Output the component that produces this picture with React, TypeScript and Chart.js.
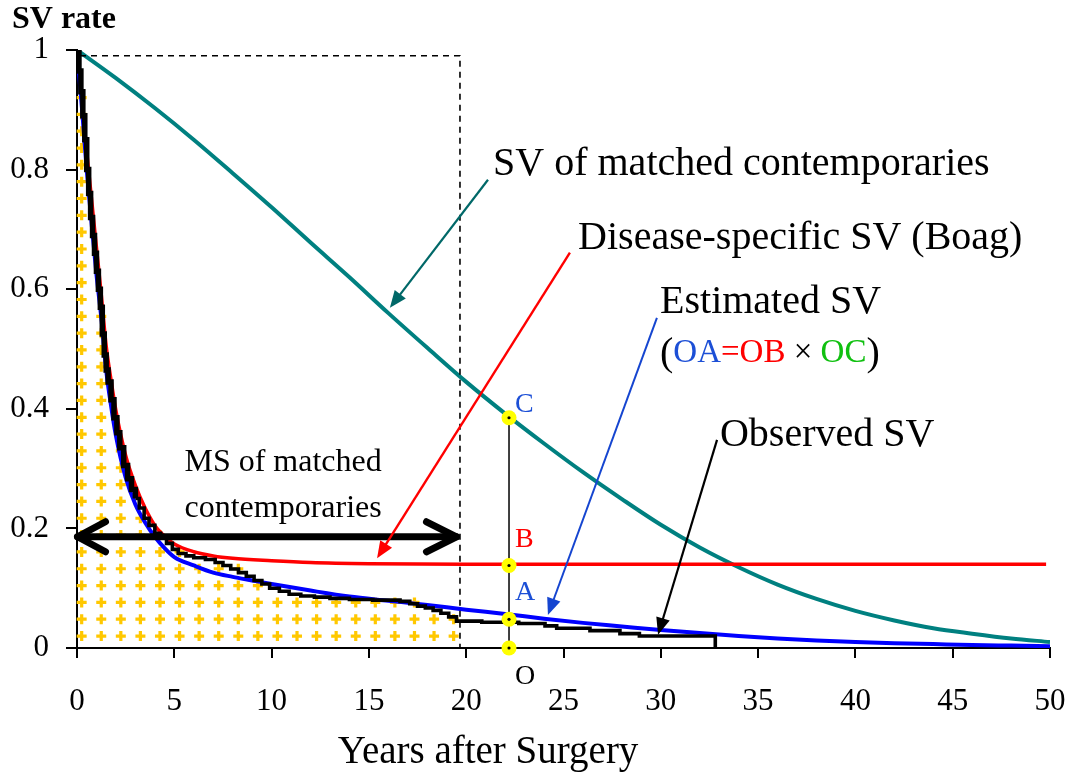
import React, { useEffect, useRef } from 'react';
import { Chart, registerables } from 'chart.js';

Chart.register(...registerables);

const FONT = '"Liberation Serif", "Times New Roman", serif';

// ---------- data ----------
const xTickValues = [0, 5, 10, 15, 20, 25, 30, 35, 40, 45, 50];
const yTickValues = [0, 0.2, 0.4, 0.6, 0.8, 1];
const yTickLabels = ['0', '0.2', '0.4', '0.6', '0.8', '1'];

// SV of matched contemporaries (teal)
const contemporaryYears = [0, 2, 4, 6, 8, 10, 12, 14, 16, 18, 20, 22, 24, 26, 28, 30, 32, 34, 36, 38, 40, 42, 44, 46, 48, 50];
const contemporarySV = [1, 0.953, 0.903, 0.85, 0.794, 0.737, 0.678, 0.62, 0.56, 0.502, 0.445, 0.392, 0.342, 0.294, 0.249, 0.206, 0.168, 0.135, 0.106, 0.082, 0.062, 0.046, 0.033, 0.024, 0.016, 0.01];

// Disease-specific SV (Boag) (red)
const boagYears = [0, 0.25, 0.5, 0.75, 1, 1.25, 1.5, 1.75, 2, 2.5, 3, 3.5, 4, 4.5, 5, 6, 7, 8, 10, 12, 15, 20, 30, 40, 49.8];
const boagSV = [1, 0.92, 0.83, 0.75, 0.67, 0.59, 0.505, 0.448, 0.397, 0.322, 0.272, 0.234, 0.205, 0.187, 0.174, 0.161, 0.154, 0.15, 0.146, 0.143, 0.141, 0.14, 0.14, 0.14, 0.14];

// Estimated SV (blue)
const estimatedYears = [0, 0.25, 0.5, 0.75, 1, 1.25, 1.5, 1.75, 2, 2.5, 3, 3.5, 4, 4.5, 5, 6, 7, 8, 9, 10, 12, 14, 16, 18, 20, 22, 24, 26, 28, 30, 32, 34, 36, 38, 40, 42, 44, 46, 48, 50];
const estimatedSV = [1, 0.905, 0.8, 0.71, 0.625, 0.552, 0.465, 0.405, 0.355, 0.285, 0.24, 0.21, 0.186, 0.167, 0.152, 0.138, 0.126, 0.119, 0.113, 0.107, 0.096, 0.086, 0.079, 0.072, 0.064, 0.057, 0.049, 0.042, 0.036, 0.03, 0.025, 0.02, 0.016, 0.0125, 0.01, 0.008, 0.0065, 0.005, 0.004, 0.003];

// Observed SV (black, Kaplan-Meier steps)
const observedYears = [0, 0.1, 0.2, 0.3, 0.4, 0.5, 0.6, 0.7, 0.8, 0.9, 1.0, 1.1, 1.2, 1.3, 1.4, 1.5, 1.6, 1.75, 1.9, 2.05, 2.2, 2.4, 2.6, 2.8, 3.0, 3.2, 3.45, 3.7, 4.0, 4.3, 4.6, 4.9, 5.2, 5.6, 6.0, 6.6, 7.1, 7.5, 7.9, 8.3, 8.7, 9.1, 9.5, 9.9, 10.4, 10.9, 11.5, 12.2, 13.0, 14.0, 15.2, 16.6, 17.1, 17.5, 17.9, 18.3, 18.7, 19.1, 19.5, 20.8, 22.7, 24.05, 24.65, 26.36, 27.9, 28.9, 32.8];
const observedSV = [1, 0.965, 0.93, 0.89, 0.85, 0.8, 0.76, 0.72, 0.69, 0.66, 0.63, 0.6, 0.57, 0.525, 0.49, 0.465, 0.445, 0.415, 0.385, 0.36, 0.335, 0.305, 0.283, 0.265, 0.25, 0.234, 0.217, 0.205, 0.192, 0.184, 0.175, 0.165, 0.158, 0.154, 0.151, 0.148, 0.143, 0.138, 0.132, 0.126, 0.12, 0.113, 0.107, 0.1, 0.095, 0.09, 0.087, 0.085, 0.083, 0.081, 0.08, 0.078, 0.074, 0.07, 0.067, 0.063, 0.058, 0.052, 0.045, 0.043, 0.041, 0.037, 0.033, 0.029, 0.024, 0.02, 0];

// Mean survival of matched contemporaries (dashed box / double arrow)
const meanSurvivalYears = 19.68;
const boxTop = 0.9905;
const doubleArrowLevel = 0.186;

// Marker points on the vertical line (C, B, A, O)
const markerYear = 22.2;
const markerLabels = ['C', 'B', 'A', 'O'];
const markerValues = [0.385, 0.138, 0.048, 0];

// Cross pattern grid (decorative fill under observed SV up to the MS)
const patternX0 = 0.24;
const patternDX = 1.006;
const patternY0 = 0.02;
const patternDY = 0.02814;

const COLORS = {
  teal: '#008080',
  tealArrow: '#006868',
  red: '#ff0000',
  blue: '#0000ff',
  blueText: '#1c4fd6',
  blueArrow: '#1545d0',
  green: '#10c010',
  black: '#000000',
  cross: '#ffc800',
  dot: '#ffff00',
};

function toPoints(xs: number[], ys: number[]) {
  return xs.map((x, i) => ({ x, y: ys[i] }));
}

function observedAt(x: number) {
  let v = observedSV[0];
  for (let i = 0; i < observedYears.length; i++) {
    if (observedYears[i] <= x) v = observedSV[i];
    else break;
  }
  return v;
}

function drawArrow(ctx: CanvasRenderingContext2D, x1: number, y1: number, x2: number, y2: number, color: string, width: number, headLen: number, headHalf: number) {
  const ang = Math.atan2(y2 - y1, x2 - x1);
  const c = Math.cos(ang), s = Math.sin(ang);
  const bx = x2 - headLen * c, by = y2 - headLen * s;
  ctx.save();
  ctx.strokeStyle = color;
  ctx.fillStyle = color;
  ctx.lineWidth = width;
  ctx.lineCap = 'butt';
  ctx.beginPath();
  ctx.moveTo(x1, y1);
  ctx.lineTo(bx + 2 * c, by + 2 * s);
  ctx.stroke();
  ctx.beginPath();
  ctx.moveTo(x2, y2);
  ctx.lineTo(bx + headHalf * s, by - headHalf * c);
  ctx.lineTo(bx - headHalf * s, by + headHalf * c);
  ctx.closePath();
  ctx.fill();
  ctx.restore();
}

function drawText(ctx: CanvasRenderingContext2D, text: string, x: number, y: number, size: number, color: string, align: CanvasTextAlign = 'left', bold = false) {
  ctx.save();
  ctx.font = `${bold ? 'bold ' : ''}${size}px ${FONT}`;
  ctx.fillStyle = color;
  ctx.textAlign = align;
  ctx.textBaseline = 'alphabetic';
  ctx.fillText(text, x, y);
  ctx.restore();
}

const overlayPlugin = {
  id: 'overlay',
  beforeDatasetsDraw(chart: any) {
    const ctx: CanvasRenderingContext2D = chart.ctx;
    const xs = chart.scales.x, ys = chart.scales.y;
    const px = (v: number) => xs.getPixelForValue(v);
    const py = (v: number) => ys.getPixelForValue(v);
    // cross pattern under observed SV up to the MS
    ctx.save();
    ctx.strokeStyle = COLORS.cross;
    ctx.lineWidth = 3.2;
    ctx.lineCap = 'butt';
    const arm = 5;
    for (let i = 0; ; i++) {
      const cx = patternX0 + i * patternDX;
      if (cx > meanSurvivalYears - 0.2) break;
      const limit = observedAt(cx) + 0.004;
      for (let k = 0; ; k++) {
        const cy = patternY0 + k * patternDY;
        if (cy > limit) break;
        const X = px(cx), Y = py(cy);
        ctx.beginPath();
        ctx.moveTo(X - arm, Y);
        ctx.lineTo(X + arm, Y);
        ctx.moveTo(X, Y - arm);
        ctx.lineTo(X, Y + arm);
        ctx.stroke();
      }
    }
    ctx.restore();
  },
  afterDatasetsDraw(chart: any) {
    const ctx: CanvasRenderingContext2D = chart.ctx;
    const xs = chart.scales.x, ys = chart.scales.y;
    const px = (v: number) => xs.getPixelForValue(v);
    const py = (v: number) => ys.getPixelForValue(v);

    // dashed box (MS of matched contemporaries)
    ctx.save();
    ctx.strokeStyle = '#000';
    ctx.lineWidth = 1.6;
    ctx.setLineDash([6, 5]);
    ctx.beginPath();
    ctx.moveTo(px(0) + 3, py(boxTop));
    ctx.lineTo(px(meanSurvivalYears), py(boxTop));
    ctx.lineTo(px(meanSurvivalYears), py(0));
    ctx.stroke();
    ctx.restore();

    // double-headed arrow
    ctx.save();
    ctx.strokeStyle = '#000';
    ctx.lineWidth = 7;
    ctx.lineCap = 'round';
    ctx.lineJoin = 'round';
    const lx = px(0) + 0.5, rx = px(meanSurvivalYears) - 3.5, ay = py(doubleArrowLevel);
    ctx.beginPath();
    ctx.moveTo(lx, ay);
    ctx.lineTo(rx, ay);
    ctx.stroke();
    ctx.beginPath();
    ctx.moveTo(lx + 28, ay - 15);
    ctx.lineTo(lx, ay);
    ctx.lineTo(lx + 28, ay + 15);
    ctx.moveTo(rx - 30, ay - 15);
    ctx.lineTo(rx, ay);
    ctx.lineTo(rx - 30, ay + 15);
    ctx.stroke();
    ctx.restore();

    // annotation arrows
    drawArrow(ctx, px(21.12), py(0.783), px(16.08), py(0.569), COLORS.tealArrow, 2.2, 17, 7);
    drawArrow(ctx, px(25.33), py(0.661), px(15.42), py(0.15), COLORS.red, 2.4, 17, 7);
    drawArrow(ctx, px(29.8), py(0.552), px(24.2), py(0.055), COLORS.blueArrow, 2, 17, 7);
    drawArrow(ctx, px(32.89), py(0.348), px(29.86), py(0.022), COLORS.black, 2.2, 17, 7);

    // vertical line O-C and markers
    const mx = px(markerYear);
    ctx.save();
    ctx.strokeStyle = '#000';
    ctx.lineWidth = 1.5;
    ctx.beginPath();
    ctx.moveTo(mx, py(markerValues[0]));
    ctx.lineTo(mx, py(markerValues[markerValues.length - 1]));
    ctx.stroke();
    markerValues.forEach((v) => {
      ctx.beginPath();
      ctx.fillStyle = COLORS.dot;
      ctx.arc(mx, py(v), 7.5, 0, Math.PI * 2);
      ctx.fill();
      ctx.beginPath();
      ctx.fillStyle = '#000';
      ctx.arc(mx, py(v), 1.6, 0, Math.PI * 2);
      ctx.fill();
    });
    ctx.restore();

    // marker labels
    const labelColors = [COLORS.blueText, COLORS.red, COLORS.blueText, '#000'];
    const labelOffsets = [0.01, 0.031, 0.032, -0.06];
    markerLabels.forEach((lab, i) => {
      drawText(ctx, lab, px(markerYear) + 6, py(markerValues[i] + labelOffsets[i]), 28, labelColors[i]);
    });

    // texts
    drawText(ctx, 'SV of matched contemporaries', px(21.38), py(0.791), 40, '#000');
    drawText(ctx, 'Disease-specific SV (Boag)', px(25.75), py(0.667), 40, '#000');
    drawText(ctx, 'Estimated SV', px(29.96), py(0.56), 40, '#000');
    drawText(ctx, 'Observed SV', px(33.04), py(0.338), 40, '#000');
    drawText(ctx, 'MS of matched', px(10.59), py(0.296), 32, '#000', 'center');
    drawText(ctx, 'contemporaries', px(10.59), py(0.219), 32, '#000', 'center');

    // (OA=OB × OC)
    ctx.save();
    const parts: [string, string, number][] = [
      ['(', '#000', 40],
      ['OA', COLORS.blueText, 33],
      ['=', COLORS.red, 33],
      ['OB', COLORS.red, 33],
      [' × ', '#000', 33],
      ['OC', COLORS.green, 33],
      [')', '#000', 40],
    ];
    let tx = px(29.96);
    const ty = py(0.478);
    ctx.textBaseline = 'alphabetic';
    ctx.textAlign = 'left';
    parts.forEach(([t, col, size]) => {
      ctx.font = `${size}px ${FONT}`;
      ctx.fillStyle = col;
      ctx.fillText(t, tx, ty + (size === 40 ? 3 : 0));
      tx += ctx.measureText(t).width;
    });
    ctx.restore();
  },
  afterDraw(chart: any) {
    const ctx: CanvasRenderingContext2D = chart.ctx;
    drawText(ctx, 'SV rate', 12, 28, 32, '#000', 'left', true);
    drawText(ctx, 'Years after Surgery', 488, 763, 39, '#000', 'center');
  },
};

export default function App() {
  const canvasRef = useRef<HTMLCanvasElement | null>(null);

  useEffect(() => {
    if (!canvasRef.current) return;
    const chart = new Chart(canvasRef.current, {
      type: 'line',
      data: {
        datasets: [
          {
            label: 'Observed SV',
            data: toPoints(observedYears, observedSV),
            borderColor: COLORS.black,
            borderWidth: 4,
            segment: {
              borderWidth: (c: any) => (c.p0.parsed.x < 3 ? 5.5 : 3.6),
            },
            stepped: 'before',
            pointRadius: 0,
            fill: false,
            order: 1,
          },
          {
            label: 'Estimated SV',
            data: toPoints(estimatedYears, estimatedSV),
            borderColor: COLORS.blue,
            borderWidth: 4,
            cubicInterpolationMode: 'monotone',
            pointRadius: 0,
            fill: false,
            order: 2,
          },
          {
            label: 'Disease-specific SV (Boag)',
            data: toPoints(boagYears, boagSV),
            borderColor: COLORS.red,
            borderWidth: 3.5,
            cubicInterpolationMode: 'monotone',
            pointRadius: 0,
            fill: false,
            order: 3,
          },
          {
            label: 'SV of matched contemporaries',
            data: toPoints(contemporaryYears, contemporarySV),
            borderColor: COLORS.teal,
            borderWidth: 4,
            cubicInterpolationMode: 'monotone',
            pointRadius: 0,
            fill: false,
            order: 4,
          },
        ],
      },
      options: {
        animation: false,
        responsive: false,
        devicePixelRatio: 1,
        layout: { padding: { top: 50, right: 21, left: 0, bottom: 0 } },
        plugins: {
          legend: { display: false },
          tooltip: { enabled: false },
          title: { display: false },
        },
        scales: {
          x: {
            type: 'linear',
            min: 0,
            max: 50,
            afterFit: (s: any) => { s.height = 125; s.paddingRight = 0; s.paddingLeft = 0; },
            afterBuildTicks: (s: any) => { s.ticks = xTickValues.map((v) => ({ value: v })); },
            ticks: {
              autoSkip: false,
              maxRotation: 0,
              color: '#000',
              padding: 25,
              font: { family: FONT, size: 31 },
              callback: (v: any) => String(v),
            },
            grid: { display: true, drawOnChartArea: false, drawTicks: true, tickLength: 10, color: '#000', lineWidth: 2 },
            border: { display: true, color: '#000', width: 2 },
          },
          y: {
            type: 'linear',
            min: 0,
            max: 1,
            afterFit: (s: any) => { s.width = 77; s.paddingTop = 0; s.paddingBottom = 0; },
            afterBuildTicks: (s: any) => { s.ticks = yTickValues.map((v) => ({ value: v })); },
            ticks: {
              autoSkip: false,
              color: '#000',
              padding: 17,
              font: { family: FONT, size: 31 },
              callback: (v: any) => {
                const idx = yTickValues.findIndex((t) => Math.abs(t - v) < 1e-9);
                return idx >= 0 ? yTickLabels[idx] : '';
              },
            },
            grid: { display: true, drawOnChartArea: false, drawTicks: true, tickLength: 11, color: '#000', lineWidth: 2 },
            border: { display: true, color: '#000', width: 2 },
          },
        },
      },
      plugins: [overlayPlugin],
    } as any);
    return () => chart.destroy();
  }, []);

  return (
    <div style={{ position: 'fixed', left: 0, top: 0, width: 1071, height: 773, background: '#fff' }}>
      <canvas ref={canvasRef} width={1071} height={773} style={{ display: 'block' }} />
    </div>
  );
}
